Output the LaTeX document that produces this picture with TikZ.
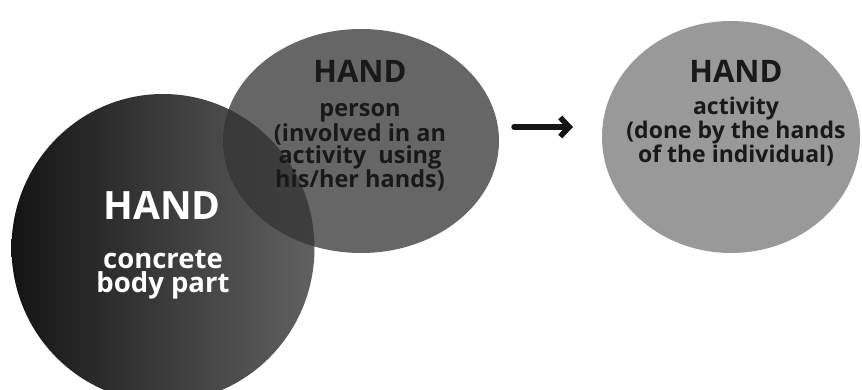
\documentclass[tikz,border=0pt]{standalone}
\usepackage{fontspec}
\setmainfont{Open Sans}
\usepackage{tikz}
\usetikzlibrary{arrows.meta,positioning}

\tikzset{
  title/.style={font=\bfseries\fontsize{31}{31}\selectfont, anchor=base},
  lines/.style={font=\bfseries\fontsize{23.5}{22}\selectfont, align=center, anchor=base, inner sep=0pt},
}

\begin{document}
\begin{tikzpicture}[x=1pt, y=-1pt, >=Stealth]
  \useasboundingbox (0,0) rectangle (862,390);

  % Circles
  \shade[left color=black!92, right color=black!62] (163,248) ellipse (151.5 and 154);
  \fill[black!80, opacity=0.75] (361,141) ellipse (138 and 112);
  \fill[black!40] (731,137) ellipse (129 and 116);

  % left circle: body part (base = last line)
  \node[title, text=white, font=\bfseries\fontsize{39}{39}\selectfont] (bodyhand) at (162,220) {HAND};
  \node[lines, text=white, font=\bfseries\fontsize{27.5}{24}\selectfont] (bodytext) at (163,292) {concrete\\body part};

  % middle circle: person
  \node[title, text=black!90] (personhand) at (360,83) {HAND};
  \node[lines, text=black!90] (persontext) at (360,188) {person\\(involved in an\\activity\ \ using\\his/her hands)};

  % right circle: activity
  \node[title, text=black!90] (activityhand) at (736,83) {HAND};
  \node[lines, text=black!90, font=\bfseries\fontsize{23}{21.5}\selectfont] (activitytext) at (736,163) {activity\\(done by the hands\\of the individual)};

  % arrow
  \coordinate (arrowstart) at (514,127);
  \coordinate (arrowend) at (573,127);
  \draw[-{Straight Barb[length=9pt, width=19pt]}, line width=5.5pt, line cap=round, black!92] (arrowstart) -- (arrowend);
\end{tikzpicture}
\end{document}
